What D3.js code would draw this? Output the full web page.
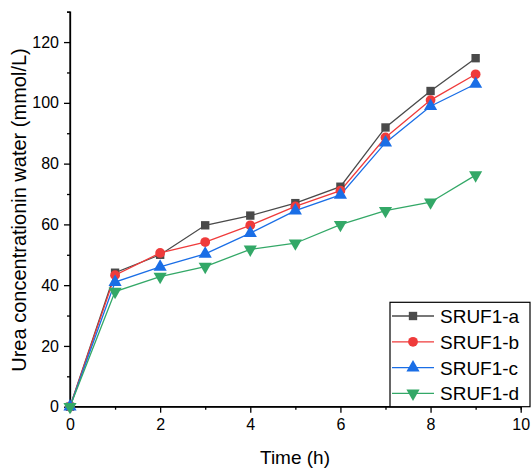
<!DOCTYPE html>
<html><head><meta charset="utf-8">
<script src="https://cdn.jsdelivr.net/npm/d3@7/dist/d3.min.js"></script>
<style>body{margin:0;background:#fff}svg{display:block}text{font-family:Arial,"Liberation Sans",sans-serif;fill:#000}</style>
</head><body>
<svg id="c" width="531" height="470"></svg>
<script>
const times = [0,1,2,3,4,5,6,7,8,9];
const seriesNames = ["SRUF1-a","SRUF1-b","SRUF1-c","SRUF1-d"];
const valuesA = [0,44.1,50.0,59.7,62.9,67.0,72.4,91.9,103.9,114.7];
const valuesB = [0,43.3,50.6,54.2,59.7,65.9,71.1,88.6,100.9,109.4];
const valuesC = [0,41.0,46.0,50.3,57.1,64.5,69.7,86.9,98.9,106.2];
const valuesD = [0,37.9,42.8,46.1,51.8,53.8,59.9,64.5,67.3,76.2];
const colors = ["#4a4a4a","#ef3b3b","#1a6ee6","#33a867"];
const symbols = ["square","circle","triangle","triangleDown"];
const xTicks = [0,2,4,6,8,10];
const yTicks = [0,20,40,60,80,100,120];
const allValues = [valuesA,valuesB,valuesC,valuesD];

const svg = d3.select("#c");
const x = d3.scaleLinear().domain([0,10]).range([70,520.7]);
const y = d3.scaleLinear().domain([0,130]).range([406.7,11.7]);

// axes
const gx = svg.append("g").attr("transform","translate(0,406.7)");
gx.call(d3.axisBottom(x).tickValues(xTicks).tickSize(6).tickPadding(6).tickFormat(d3.format("d")));
gx.append("g").call(d3.axisBottom(x).tickValues([1,3,5,7,9]).tickSize(3).tickFormat(""));
const gy = svg.append("g").attr("transform","translate(70,0)");
gy.call(d3.axisLeft(y).tickValues(yTicks).tickSize(6).tickPadding(5).tickFormat(d3.format("d")));
gy.append("g").call(d3.axisLeft(y).tickValues([10,30,50,70,90,110,130]).tickSize(3).tickFormat(""));
svg.selectAll(".domain").attr("stroke","#000").attr("stroke-width",1.3);
svg.selectAll(".tick line").attr("stroke","#000").attr("stroke-width",1.3);
svg.selectAll(".tick text").style("font-size","16px").style("font-family","Arial, 'Liberation Sans', sans-serif").attr("fill","#000");
gx.select(".domain").attr("d","M70,0H520.7");
gy.select(".domain").attr("d","M0,406.7V11.7");

function sym(i,size){
  const s = symbols[i];
  if(s==="square") return d3.symbol(d3.symbolSquare,size)();
  if(s==="circle") return d3.symbol(d3.symbolCircle,size)();
  return d3.symbol(d3.symbolTriangle,size)();
}
const sizes = [70,75,75,75];

const line = d3.line().x((d,i)=>x(times[i])).y(d=>y(d));
allValues.forEach((vals,i)=>{
  svg.append("path").attr("d",line(vals)).attr("fill","none").attr("stroke",colors[i]).attr("stroke-width",1.3);
});
allValues.forEach((vals,i)=>{
  svg.append("g").selectAll("path").data(vals).enter().append("path")
    .attr("d",sym(i,sizes[i]))
    .attr("transform",(d,j)=>`translate(${x(times[j])},${y(d)})`+(symbols[i]==="triangleDown"?" rotate(180)":""))
    .attr("fill",colors[i]);
});

// axis titles
svg.append("text").attr("x",295).attr("y",464).attr("text-anchor","middle").style("font-size","19px").text("Time (h)");
svg.append("text").attr("transform","translate(26,210) rotate(-90)").attr("text-anchor","middle").style("font-size","20px").text("Urea concentrationin water (mmol/L)");

// legend
const lg = svg.append("g");
lg.append("rect").attr("x",390).attr("y",302.3).attr("width",140).attr("height",104.4).attr("fill","#fff").attr("stroke","#000").attr("stroke-width",1.2);
seriesNames.forEach((n,i)=>{
  const yy = 316 + i*25.8;
  lg.append("line").attr("x1",392).attr("x2",434).attr("y1",yy).attr("y2",yy).attr("stroke",colors[i]).attr("stroke-width",1.3);
  lg.append("path").attr("d",sym(i,sizes[i])).attr("transform",`translate(413,${yy})`+(symbols[i]==="triangleDown"?" rotate(180)":"")).attr("fill",colors[i]);
  lg.append("text").attr("x",440).attr("y",yy+7).style("font-size","19px").text(n);
});
</script>
</body></html>
